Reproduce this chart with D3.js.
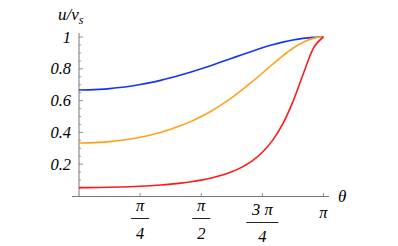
<!DOCTYPE html>
<html><head><meta charset="utf-8">
<script src="https://cdn.jsdelivr.net/npm/d3@7"></script>
<style>body{margin:0;background:#fff}svg{display:block}
text{font-family:"Liberation Serif","Times New Roman","DejaVu Serif",serif;font-style:italic}</style>
</head><body><svg id="c" width="398" height="246"></svg>
<script>
// sample angles (degrees) along the curves
const thetaDeg = [0,7.5,15,22.5,30,37.5,45,52.5,60,67.5,75,82.5,90,97.5,105,112.5,120,127.5,135,142.5,150,157.5,165,172.5,180];
const blueVals = [0.6667,0.6676,0.6705,0.6752,0.6819,0.6904,0.7009,0.7132,0.7273,0.7431,0.7606,0.7796,0.8,0.8214,0.8437,0.8663,0.8889,0.9109,0.9318,0.9509,0.9676,0.9813,0.9916,0.9979,1];
const orangeVals = [0.3333,0.3343,0.3372,0.3420,0.3489,0.3580,0.3694,0.3833,0.4,0.4197,0.4427,0.4694,0.5,0.5349,0.5743,0.6183,0.6667,0.7188,0.7735,0.8287,0.8818,0.9293,0.9670,0.9915,1];
const redVals = [0.0526,0.0528,0.0535,0.0546,0.0562,0.0583,0.0611,0.0646,0.0690,0.0744,0.0811,0.0895,0.1,0.1133,0.1304,0.1525,0.1818,0.2212,0.2750,0.3497,0.4534,0.5934,0.7653,0.9285,1];
const seriesColors = ["#1533ff","#ffa21a","#ff1a1a"];
const yTicks = [0.2,0.4,0.6,0.8,1];
const yTickLabels = ["0.2","0.4","0.6","0.8","1"];
const yMinorTicks = [0.05,0.1,0.15,0.25,0.3,0.35,0.45,0.5,0.55,0.65,0.7,0.75,0.85,0.9,0.95];
const xTicks = [45,90,135,180];
const xTickNum = ["π","π","3 π","π"];
const xTickDen = ["4","2","4",""];

const svg = d3.select("#c");
const x = d3.scaleLinear().domain([0,180]).range([79,323.5]);
const y = d3.scaleLinear().domain([0,1]).range([196,37]);
const axisColor = "#777";
const fs = 16.5;

// axes lines
svg.append("line").attr("x1",72).attr("x2",329).attr("y1",y(0)+0.5).attr("y2",y(0)+0.5)
  .attr("stroke",axisColor).attr("stroke-width",1);
svg.append("line").attr("x1",x(0)).attr("x2",x(0)).attr("y1",y(1.025)).attr("y2",y(0))
  .attr("stroke",axisColor).attr("stroke-width",1);

// y ticks
svg.selectAll(".ymaj").data(yTicks).enter().append("line")
  .attr("x1",x(0)).attr("x2",x(0)+4).attr("y1",d=>y(d)).attr("y2",d=>y(d))
  .attr("stroke",axisColor).attr("stroke-width",0.8);
svg.selectAll(".ymin").data(yMinorTicks).enter().append("line")
  .attr("x1",x(0)).attr("x2",x(0)+2.2).attr("y1",d=>y(d)).attr("y2",d=>y(d))
  .attr("stroke",axisColor).attr("stroke-width",0.7);
svg.selectAll(".ylab").data(yTicks).enter().append("text")
  .attr("x",71).attr("y",d=>y(d)+5.5).attr("text-anchor","end")
  .attr("font-size",fs)
  .text((d,i)=>yTickLabels[i]);

// x ticks
svg.selectAll(".xt").data(xTicks).enter().append("line")
  .attr("x1",d=>x(d)).attr("x2",d=>x(d)).attr("y1",y(0)).attr("y2",y(0)-3)
  .attr("stroke",axisColor).attr("stroke-width",0.8);

xTicks.forEach((t,i)=>{
  const cx = x(t);
  if (xTickDen[i]) {
    const off = xTickNum[i].length > 1 ? 4 : 0;
    svg.append("text").attr("x",cx).attr("y",211+off).attr("text-anchor","middle")
      .attr("font-size",fs).attr("xml:space","preserve").text(xTickNum[i]);
    const w = xTickNum[i].length > 1 ? 32 : 18;
    svg.append("line").attr("x1",cx-w/2).attr("x2",cx+w/2).attr("y1",218.5+off).attr("y2",218.5+off)
      .attr("stroke","#222").attr("stroke-width",1);
    svg.append("text").attr("x",cx).attr("y",239+off*0.75).attr("text-anchor","middle")
      .attr("font-size",fs).text(xTickDen[i]);
  } else {
    svg.append("text").attr("x",cx).attr("y",218).attr("text-anchor","middle")
      .attr("font-size",fs).text(xTickNum[i]);
  }
});

// axis labels
svg.append("text").attr("x",338).attr("y",202).attr("font-size",17).text("θ");
const yl = svg.append("text").attr("x",58).attr("y",20).attr("font-size",17);
yl.append("tspan").text("u/v");
yl.append("tspan").attr("dy",4).attr("font-size",12).text("s");

// curves
const line = d3.line().x(d=>x(d[0])).y(d=>y(d[1])).curve(d3.curveMonotoneX);
[blueVals,orangeVals,redVals].forEach((vals,i)=>{
  svg.append("path").datum(thetaDeg.map((t,j)=>[t,vals[j]]))
    .attr("d",line).attr("fill","none").attr("stroke",seriesColors[i])
    .attr("stroke-width",1.6);
});
</script></body></html>
